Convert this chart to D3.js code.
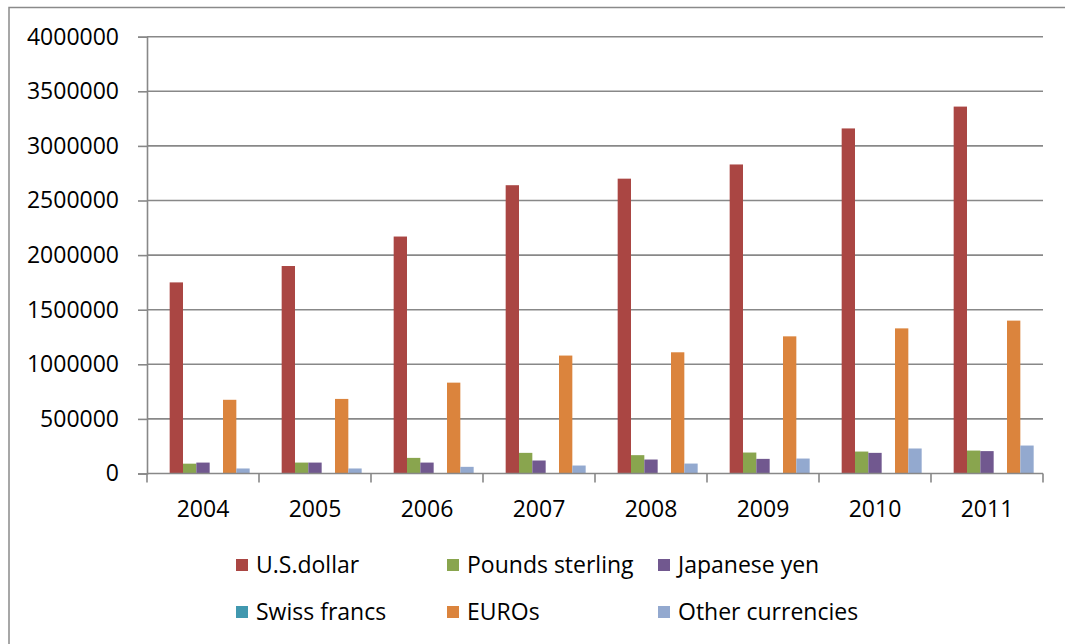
<!DOCTYPE html>
<html>
<head>
<meta charset="utf-8">
<script src="https://cdn.jsdelivr.net/npm/d3@7"></script>
<style>
  html, body { margin: 0; padding: 0; background: #fff; }
  svg { display: block; }
  text { font-family: "Open Sans", "Liberation Sans", sans-serif; fill: #000; }
</style>
</head>
<body>
<svg id="chart" width="1065" height="644"></svg>
<script>
// ---- data ----
const years = ["2004", "2005", "2006", "2007", "2008", "2009", "2010", "2011"];
const seriesNames = ["U.S.dollar", "Pounds sterling", "Japanese yen", "Swiss francs", "EUROs", "Other currencies"];
const usDollar      = [1750000, 1900000, 2170000, 2640000, 2700000, 2830000, 3160000, 3360000];
const poundsSterling = [90000, 100000, 143000, 189000, 168000, 192000, 201000, 210000];
const japaneseYen   = [100000, 100000, 100000, 119000, 128000, 134000, 189000, 205000];
const swissFrancs   = [0, 0, 0, 0, 0, 0, 0, 0];
const euros         = [675000, 683000, 832000, 1080000, 1110000, 1256000, 1329000, 1400000];
const otherCurrencies = [46000, 46000, 61000, 73000, 91000, 137000, 229000, 256000];
const yTicks = [0, 500000, 1000000, 1500000, 2000000, 2500000, 3000000, 3500000, 4000000];
const colors = ["#AA4643", "#89A54E", "#71588F", "#4198AF", "#DB843D", "#93A9CF"];

const seriesValues = [usDollar, poundsSterling, japaneseYen, swissFrancs, euros, otherCurrencies];

const svg = d3.select("#chart");

// outer border (chart area frame)
svg.append("rect")
  .attr("x", 9).attr("y", 7.5)
  .attr("width", 1070).attr("height", 660)
  .attr("fill", "none").attr("stroke", "#8a8a8a").attr("stroke-width", 1.5);

const plot = { left: 147, right: 1043, top: 36.7, bottom: 473.5 };

const x0 = d3.scaleBand().domain(years).range([plot.left, plot.right]).paddingInner(0).paddingOuter(0);
// 7 slots per category: first slot is an unused (empty) series position
const x1 = d3.scaleBand().domain(d3.range(7)).range([0, x0.bandwidth()]).paddingInner(0).paddingOuter(0.7);
const y = d3.scaleLinear().domain([0, 4000000]).range([plot.bottom, plot.top]);

// gridlines
svg.append("g").selectAll("line").data(yTicks.filter(d => d > 0)).join("line")
  .attr("x1", plot.left).attr("x2", plot.right)
  .attr("y1", d => y(d)).attr("y2", d => y(d))
  .attr("stroke", "#888").attr("stroke-width", 1.6);

// bars
const groups = svg.append("g").selectAll("g").data(years).join("g")
  .attr("transform", d => `translate(${x0(d)},0)`);
groups.selectAll("rect")
  .data((yr, i) => seriesValues.map((vals, s) => ({ s, v: vals[i] })))
  .join("rect")
  .attr("x", d => x1(d.s + 1))
  .attr("width", x1.bandwidth())
  .attr("y", d => y(d.v))
  .attr("height", d => y(0) - y(d.v))
  .attr("fill", d => colors[d.s]);

// y axis
const yAxis = d3.axisLeft(y).tickValues(yTicks).tickFormat(d3.format("d")).tickSize(9).tickPadding(19);
const gy = svg.append("g").attr("transform", `translate(${plot.left},0)`).call(yAxis);
gy.select(".domain").attr("stroke", "#888").attr("stroke-width", 1.6);
gy.selectAll(".tick line").attr("stroke", "#888").attr("stroke-width", 1.6);
gy.selectAll(".tick text").attr("font-size", 23).attr("font-family", "Open Sans").attr("fill", "#000");

// x axis: baseline + ticks at category boundaries
const gx = svg.append("g");
gx.append("line").attr("x1", plot.left).attr("x2", plot.right)
  .attr("y1", y(0)).attr("y2", y(0)).attr("stroke", "#888").attr("stroke-width", 1.6);
const boundaries = years.map(d => x0(d)).concat([x0(years[years.length - 1]) + x0.bandwidth()]);
gx.selectAll("line.tk").data(boundaries).join("line").attr("class", "tk")
  .attr("x1", d => d).attr("x2", d => d)
  .attr("y1", y(0)).attr("y2", y(0) + 9)
  .attr("stroke", "#888").attr("stroke-width", 1.6);
gx.selectAll("text").data(years).join("text")
  .attr("x", d => x0(d) + x0.bandwidth() / 2)
  .attr("y", 509)
  .attr("dy", "0.35em")
  .attr("text-anchor", "middle")
  .attr("font-size", 23)
  .text(d => d);

// legend
const legendCols = [236, 447, 658];
const legendRows = [565, 612];
const lg = svg.append("g").selectAll("g").data(seriesNames).join("g")
  .attr("transform", (d, i) => `translate(${legendCols[i % 3]},${legendRows[Math.floor(i / 3)]})`);
lg.append("rect").attr("x", 0).attr("y", -6).attr("width", 12).attr("height", 12)
  .attr("fill", (d, i) => colors[i]);
lg.append("text").attr("x", 20).attr("y", 0).attr("dy", "0.35em")
  .attr("font-size", 23).text(d => d);
</script>
</body>
</html>
